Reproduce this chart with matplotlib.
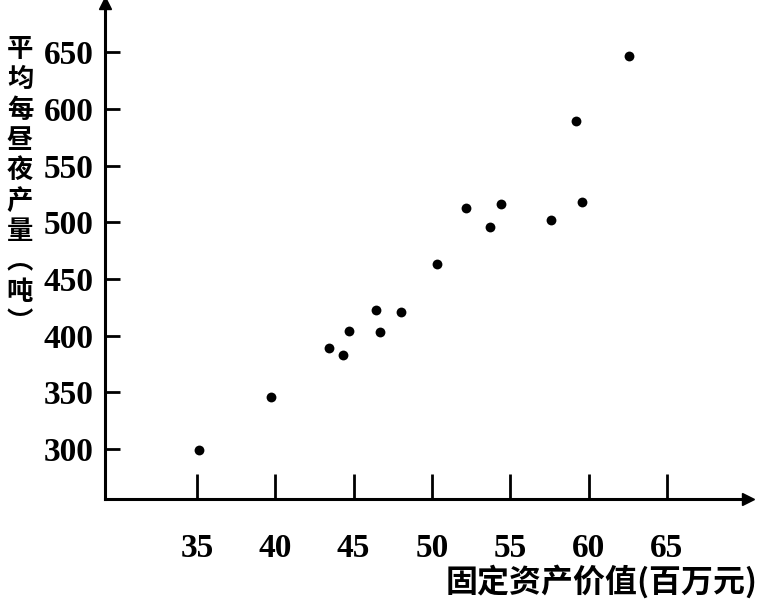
import matplotlib
matplotlib.use("Agg")
import matplotlib.pyplot as plt

# Data
asset_value = [35.1, 39.7, 43.4, 44.3, 44.7, 46.4, 46.7, 48.0, 50.3, 52.2,
               53.7, 54.4, 57.6, 59.2, 59.6, 62.6]
daily_output = [299, 346, 389, 383, 404, 423, 403, 421, 463, 513,
                496, 516, 502, 589, 518, 647]
x_ticks = [35, 40, 45, 50, 55, 60, 65]
y_ticks = [300, 350, 400, 450, 500, 550, 600, 650]

ylabel_chars = ["平", "均", "每", "昼", "夜", "产", "量", "︵", "吨", "︶"]
xlabel_text = "固定资产价值(百万元)"

cjk = ["Noto Sans CJK SC", "DejaVu Sans"]

fig = plt.figure(figsize=(7.57, 6.0), dpi=100)
ax = fig.add_axes([0.1387, 0.168, 0.849, 0.827])

ax.scatter(asset_value, daily_output, s=50, color="black", zorder=3, linewidths=0)

ax.set_xlim(29.13, 70.16)
ax.set_ylim(255.9, 693.3)

ax.spines["top"].set_visible(False)
ax.spines["right"].set_visible(False)
for sp in ("left", "bottom"):
    ax.spines[sp].set_linewidth(2.2)

ax.set_xticks(x_ticks)
ax.set_yticks(y_ticks)
ax.tick_params(axis="x", direction="in", length=18, width=2, pad=24)
ax.tick_params(axis="y", direction="in", length=11, width=2, pad=8)
for lab in ax.get_xticklabels() + ax.get_yticklabels():
    lab.set_fontfamily("Liberation Serif")
    lab.set_fontsize(24)
    lab.set_fontweight("bold")

# arrows at axis ends
ax.plot(1, 0, marker=">", color="black", markersize=9, transform=ax.transAxes, clip_on=False)
ax.plot(0, 1, marker="^", color="black", markersize=9, transform=ax.transAxes, clip_on=False)

# vertical y label
fig.text(20 / 757, 1 - 186 / 600, "\n".join(ylabel_chars), family=cjk, fontsize=19,
         fontweight="bold", ha="center", va="center", linespacing=1.16)

# x label
fig.text(758 / 757, 1 - 582 / 600, xlabel_text, family=cjk, fontsize=23,
         fontweight="bold", ha="right", va="center")

fig.savefig("out.png", dpi=100)
